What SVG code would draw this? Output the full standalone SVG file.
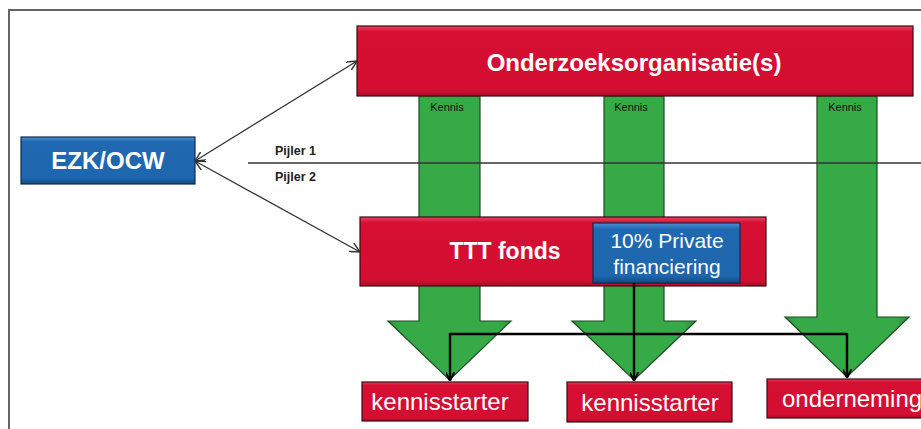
<svg xmlns="http://www.w3.org/2000/svg" width="921" height="429" viewBox="0 0 921 429">
<defs>
<linearGradient id="gRed" x1="0" y1="0" x2="0" y2="1">
<stop offset="0" stop-color="#EC4564"/><stop offset="0.08" stop-color="#D60F33"/><stop offset="0.92" stop-color="#D20E31"/><stop offset="1" stop-color="#A80B27"/>
</linearGradient>
<linearGradient id="gBlue" x1="0" y1="0" x2="0" y2="1">
<stop offset="0" stop-color="#4E92D6"/><stop offset="0.1" stop-color="#1F69B2"/><stop offset="0.88" stop-color="#1E66AD"/><stop offset="1" stop-color="#134A82"/>
</linearGradient>
<linearGradient id="gGreen" x1="0" y1="0" x2="1" y2="0">
<stop offset="0" stop-color="#2C9A3C"/><stop offset="0.1" stop-color="#36AA47"/><stop offset="0.9" stop-color="#36AA47"/><stop offset="1" stop-color="#2A923A"/>
</linearGradient>
<marker id="open" viewBox="0 0 10 10" refX="10" refY="5" markerWidth="10" markerHeight="10" markerUnits="userSpaceOnUse" orient="auto-start-reverse">
<path d="M0 0 L10 5 L0 10" fill="none" stroke="#333" stroke-width="1.4"/>
</marker>
<marker id="blk" viewBox="0 0 10 10" refX="9" refY="5" markerWidth="9" markerHeight="9" markerUnits="userSpaceOnUse" orient="auto">
<path d="M0 0 L10 5 L0 10" fill="none" stroke="#000" stroke-width="2.2"/>
</marker>
</defs>
<style>
.red{fill:url(#gRed);stroke:#3a0a12;stroke-width:1.2}
.blue{fill:url(#gBlue);stroke:#0d2c4f;stroke-width:1.2}
.green{fill:url(#gGreen);stroke:#1b4d22;stroke-width:1.2}
.wt{fill:#fff;font-family:"Liberation Sans",Arial,sans-serif;text-anchor:middle}
.ws{fill:#fff;font-family:"Liberation Sans",Arial,sans-serif;text-anchor:start}
.b{font-weight:bold}
.small{font-family:"Liberation Sans",Arial,sans-serif;font-size:11px;fill:#111;text-anchor:middle}
.pij{font-family:"Liberation Sans",Arial,sans-serif;font-size:12.5px;font-weight:bold;fill:#222}
.thin{fill:none;stroke:#333;stroke-width:1.3}
.conn{fill:none;stroke:#000;stroke-width:2.4}
</style>
<rect x="0" y="0" width="921" height="429" fill="#fff"/>
<path d="M9 429 V10 H921" fill="none" stroke="#666" stroke-width="2"/>

<g id="arrow-kennis-1">
<path class="green" d="M419 96 H480 V321 H511 L449.5 380 L388 321 H419 Z"/>
<text class="small" x="447" y="111">Kennis</text>
</g>
<g id="arrow-kennis-2">
<path class="green" d="M604 96 H664 V321 H696 L634 380 L572 321 H604 Z"/>
<text class="small" x="631" y="111">Kennis</text>
</g>
<g id="arrow-kennis-3">
<path class="green" d="M817 96 H877 V317 H909 L847 377 L785 317 H817 Z"/>
<text class="small" x="845" y="111">Kennis</text>
</g>

<g id="pijler">
<line x1="248" y1="163" x2="921" y2="163" stroke="#333" stroke-width="1.3"/>
<text class="pij" x="275" y="155">Pijler 1</text>
<text class="pij" x="275" y="181">Pijler 2</text>
</g>

<g id="onderzoek">
<rect class="red" x="357" y="26" width="556" height="70"/>
<text class="wt b" x="634" y="71" font-size="24">Onderzoeksorganisatie(s)</text>
</g>

<g id="ezk">
<rect class="blue" x="21" y="137" width="174" height="47"/>
<text class="wt b" x="108" y="169" font-size="24">EZK/OCW</text>
</g>

<g id="ttt">
<rect class="red" x="360" y="217" width="406" height="69"/>
<text class="wt b" x="505" y="259" font-size="23">TTT fonds</text>
</g>

<g id="private">
<rect class="blue" x="593" y="223" width="147" height="60"/>
<text class="wt" x="667" y="248" font-size="21">10% Private</text>
<text class="wt" x="667" y="274" font-size="21">financiering</text>
</g>

<g id="kennisstarter-1">
<rect class="red" x="362" y="382" width="166" height="39"/>
<text class="wt" x="440" y="410" font-size="24">kennisstarter</text>
</g>
<g id="kennisstarter-2">
<rect class="red" x="567" y="382" width="165" height="40"/>
<text class="wt" x="650" y="411" font-size="24">kennisstarter</text>
</g>
<g id="onderneming">
<rect class="red" x="767" y="379" width="170" height="39"/>
<text class="ws" x="782" y="407" font-size="24">onderneming</text>
</g>

<g id="connectors">
<line class="thin" x1="195" y1="161" x2="357" y2="61" marker-start="url(#open)" marker-end="url(#open)"/>
<line class="thin" x1="195" y1="161" x2="360" y2="252" marker-start="url(#open)" marker-end="url(#open)"/>
<path class="conn" d="M634 283 V380" marker-end="url(#blk)"/>
<path class="conn" d="M450 334 H847"/>
<path class="conn" d="M450 333 V380" marker-end="url(#blk)"/>
<path class="conn" d="M847 333 V377" marker-end="url(#blk)"/>
</g>
</svg>
